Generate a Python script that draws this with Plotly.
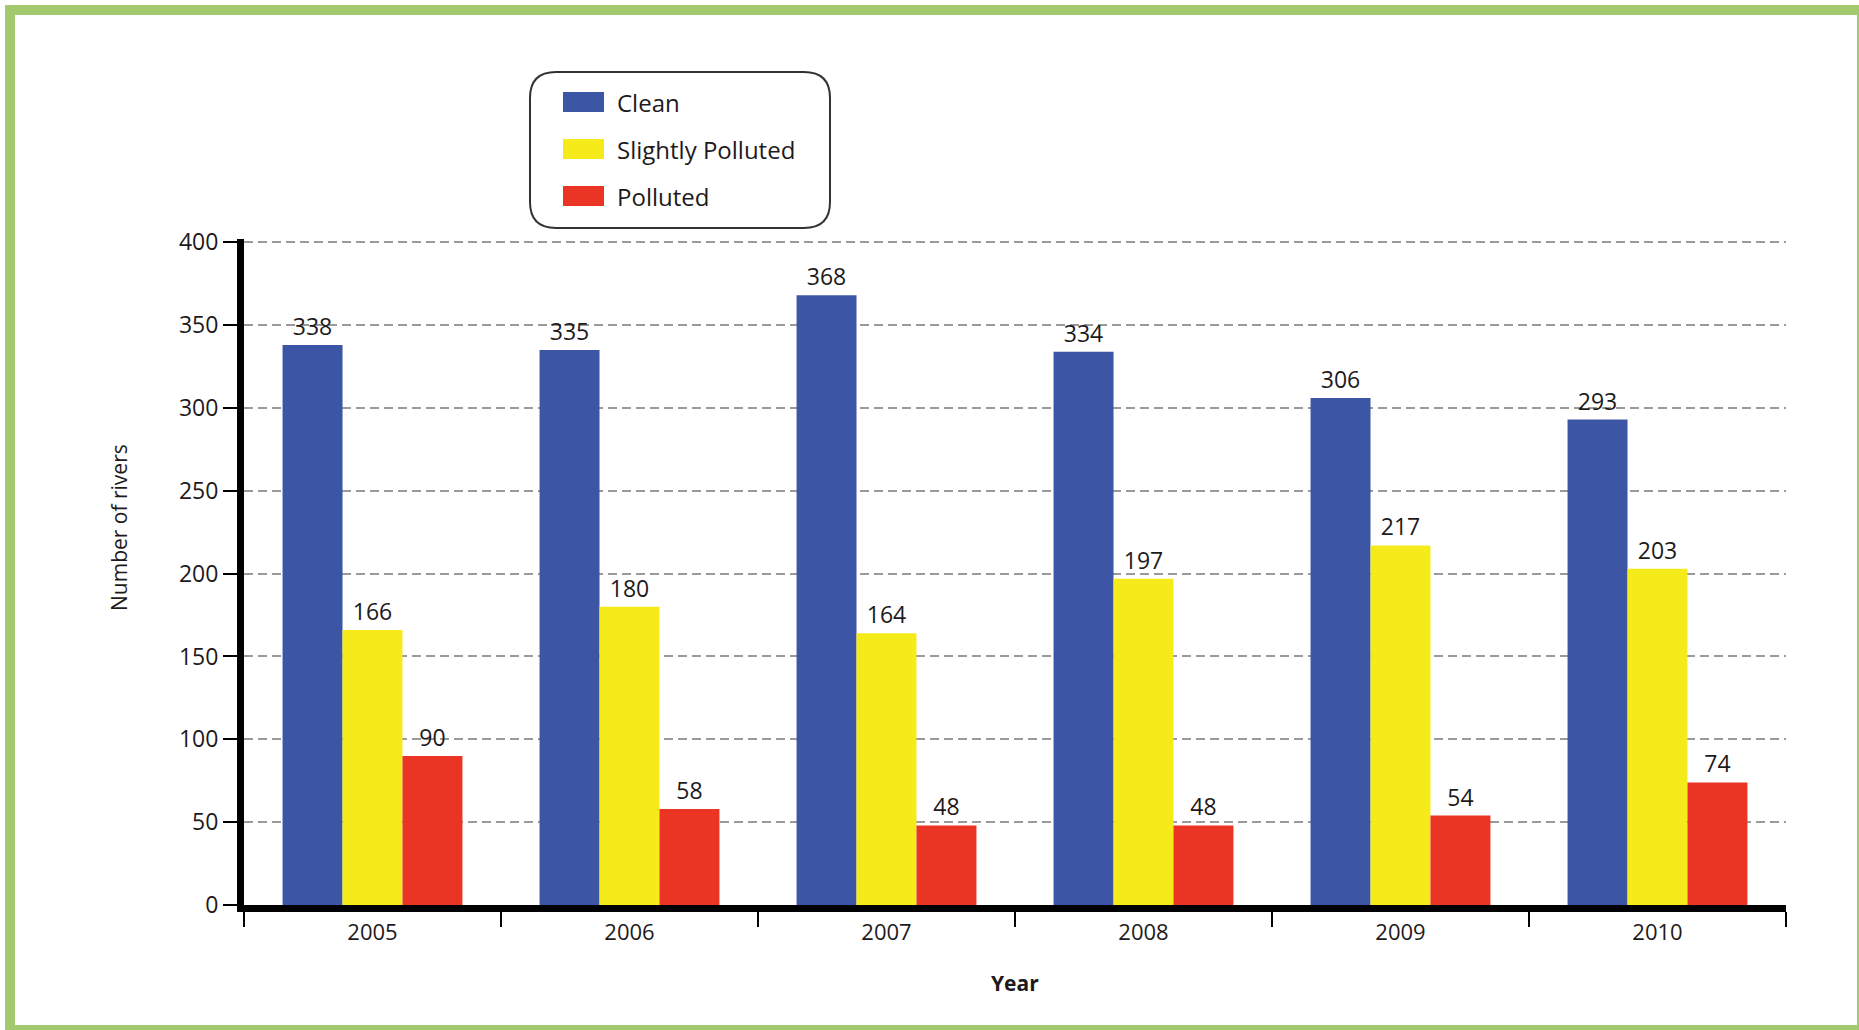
import plotly.graph_objects as go

years = ["2005", "2006", "2007", "2008", "2009", "2010"]
series_names = ["Clean", "Slightly Polluted", "Polluted"]
clean = [338, 335, 368, 334, 306, 293]
slightly = [166, 180, 164, 197, 217, 203]
polluted = [90, 58, 48, 48, 54, 74]
y_ticks = [0, 50, 100, 150, 200, 250, 300, 350, 400]

colors = ["#3C56A5", "#F5EA1A", "#EA3524"]
FONT = "Open Sans"
TXT = "#1E1A1B"

W_FIG, H_FIG = 1859, 1030
L, R, T, B = 244, 73, 239, 125
PW = W_FIG - L - R
PH = H_FIG - T - B


def px(x):
    return (x - L) / PW


def py(y):
    return 1 - (y - T) / PH


fig = go.Figure()
for name, vals, col in zip(series_names, [clean, slightly, polluted], colors):
    fig.add_trace(go.Bar(
        x=years, y=vals, name=name, marker=dict(color=col, line=dict(width=0)),
        text=[str(v) for v in vals], textposition="outside",
        textfont=dict(family=FONT, size=23, color=TXT), cliponaxis=False,
        showlegend=False,
    ))

shapes = []
# green frame
shapes.append(dict(type="rect", xref="paper", yref="paper",
                   x0=px(10), x1=px(1862), y0=py(10), y1=py(1030),
                   line=dict(color="#A3C96E", width=10), fillcolor="rgba(0,0,0,0)", layer="below"))

# rounded legend box
x0, x1, y0, y1, r = 530, 830, 72, 228, 26
def P(a, b):
    return f"{px(a):.5f},{py(b):.5f}"
path = (f"M {P(x0 + r, y0)} L {P(x1 - r, y0)} Q {P(x1, y0)} {P(x1, y0 + r)} "
        f"L {P(x1, y1 - r)} Q {P(x1, y1)} {P(x1 - r, y1)} "
        f"L {P(x0 + r, y1)} Q {P(x0, y1)} {P(x0, y1 - r)} "
        f"L {P(x0, y0 + r)} Q {P(x0, y0)} {P(x0 + r, y0)} Z")
shapes.append(dict(type="path", xref="paper", yref="paper", path=path,
                   line=dict(color="#333333", width=2), fillcolor="white"))

annotations = []
row_y = [102, 149, 196]
for name, col, ry in zip(series_names, colors, row_y):
    shapes.append(dict(type="rect", xref="paper", yref="paper",
                       x0=px(563), x1=px(604), y0=py(ry - 10), y1=py(ry + 10),
                       line=dict(width=0), fillcolor=col))
    annotations.append(dict(xref="paper", yref="paper", x=px(615), y=py(ry),
                            text=name, showarrow=False, xanchor="left", yanchor="middle",
                            font=dict(family=FONT, size=24, color=TXT)))

annotations.append(dict(xref="paper", yref="paper", x=px(119), y=py(528),
                        text="Number of rivers", textangle=-90, showarrow=False,
                        xanchor="center", yanchor="middle",
                        font=dict(family=FONT, size=21, color=TXT)))
annotations.append(dict(xref="paper", yref="paper", x=px(1015), y=py(983),
                        text="<b>Year</b>", showarrow=False,
                        xanchor="center", yanchor="middle",
                        font=dict(family=FONT, size=21, color=TXT)))

fig.update_layout(
    width=W_FIG, height=H_FIG,
    margin=dict(l=L, r=R, t=T, b=B, autoexpand=False),
    paper_bgcolor="white", plot_bgcolor="white",
    barmode="group", bargap=0.3, bargroupgap=0,
    shapes=shapes, annotations=annotations,
    showlegend=False,
    font=dict(family=FONT, color=TXT),
)
fig.update_xaxes(
    type="category", showline=True, linecolor="black", linewidth=7,
    ticks="outside", tickson="boundaries", ticklen=15, tickwidth=2, tickcolor="black",
    ticklabelstandoff=2,
    tickfont=dict(family=FONT, size=22, color=TXT), showgrid=False, zeroline=False,
)
fig.update_yaxes(
    range=[0, 402], tickvals=y_ticks, showline=True, linecolor="black", linewidth=7,
    ticks="outside", ticklen=14, tickwidth=2, tickcolor="black",
    tickfont=dict(family=FONT, size=23, color=TXT),
    showgrid=True, gridcolor="#9A9A9A", gridwidth=2, griddash="9px,5px", zeroline=False,
)
fig.write_html("out.html")
